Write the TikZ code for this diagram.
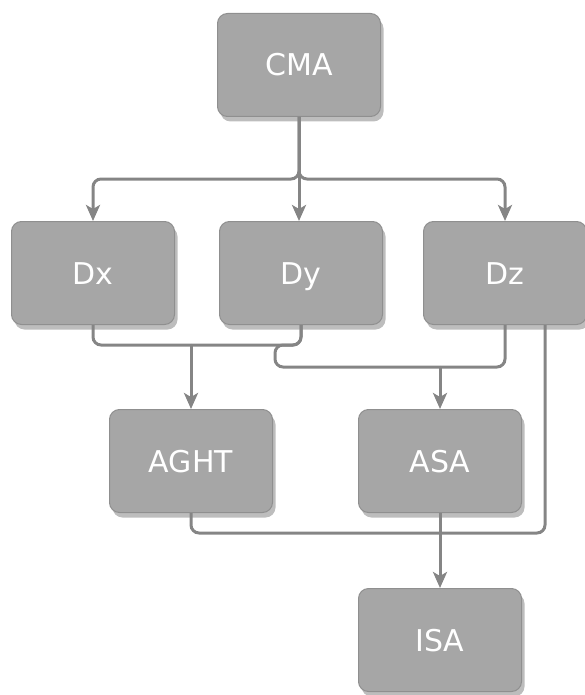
\documentclass[tikz,border=0pt]{standalone}
\usepackage{fontspec}
\setmainfont{DejaVu Sans}
\usetikzlibrary{arrows.meta,shadows}

\definecolor{boxfill}{HTML}{A6A6A6}
\definecolor{boxline}{HTML}{8F8F8F}
\definecolor{shadowgray}{HTML}{BDBDBD}
\definecolor{linegray}{HTML}{858585}

\tikzset{
  unit/.style={draw=boxline, line width=1pt, fill=boxfill, rounded corners=10pt,
    minimum width=163pt, minimum height=103pt, text=white,
    font=\fontsize{30}{34}\selectfont, text height=22pt, text depth=0pt,
    drop shadow={shadow xshift=3pt, shadow yshift=-5pt, fill=shadowgray, opacity=1}},
  link/.style={draw=linegray, line width=3pt, rounded corners=8pt,
    -{Stealth[length=16pt,width=14pt,inset=4pt]}},
  bare/.style={draw=linegray, line width=3pt, rounded corners=8pt}
}

\begin{document}
\begin{tikzpicture}[x=1pt, y=-1pt]
  \useasboundingbox (0,0) rectangle (585,695); % Page frame

  % Boxes
  \foreach \name/\X/\Y in {CMA/299/65, Dx/93/273, Dy/301/273, Dz/505/273,
                            AGHT/191/461, ASA/440/461, ISA/440/640} {
    \node[unit] (\name) at (\X,\Y) {\name};
  }

  % Bus levels
  \coordinate (topbus) at (0,179);
  \coordinate (midbus) at (0,345);
  \coordinate (jog) at (275,345);
  \coordinate (asabus) at (0,367);
  \coordinate (isabus) at (0,533);

  % CMA to the D row
  \draw[link] (CMA.south) -- (CMA.south |- topbus) -| (Dx.north);
  \draw[link] (CMA.south) -- (CMA.south |- Dy.north);
  \draw[link] (CMA.south) -- (CMA.south |- topbus) -| (Dz.north);

  % D row to AGHT and ASA
  \draw[bare] (Dx.south) |- (AGHT.north |- midbus);
  \draw[bare] (Dy.south) |- (AGHT.north |- midbus);
  \draw[link] (AGHT.north |- midbus) -- (AGHT.north); % Merged drop
  \draw[bare] (Dy.south) |- (jog) |- (ASA.north |- asabus);
  \draw[bare] (Dz.south) |- (ASA.north |- asabus);
  \draw[link] (ASA.north |- asabus) -- (ASA.north); % Merged drop

  % Into ISA
  \draw[bare] ([xshift=40pt]Dz.south) |- (ISA.north |- isabus);
  \draw[bare] (AGHT.south) |- (ISA.north |- isabus);
  \draw[link] (ASA.south) -- (ISA.north);

\end{tikzpicture}
\end{document}
